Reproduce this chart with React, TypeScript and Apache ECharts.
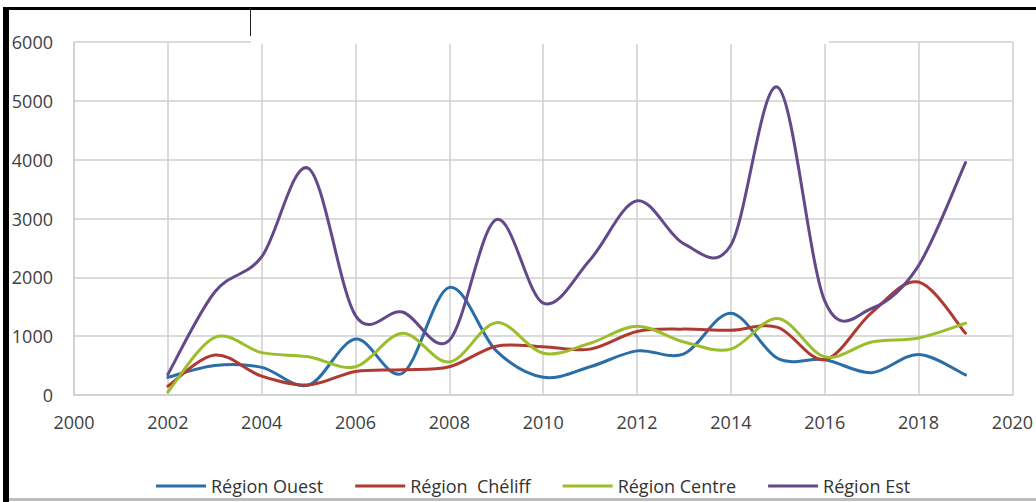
import React, { useEffect, useRef } from "react";
import * as echarts from "echarts";

// Years covered by the series
const years = [2002, 2003, 2004, 2005, 2006, 2007, 2008, 2009, 2010, 2011, 2012, 2013, 2014, 2015, 2016, 2017, 2018, 2019];

const regionOuest = [300, 500, 470, 170, 950, 370, 1830, 750, 300, 480, 750, 700, 1390, 620, 600, 380, 690, 340];
const regionCheliff = [150, 680, 320, 170, 400, 430, 480, 830, 820, 780, 1080, 1120, 1100, 1150, 600, 1400, 1920, 1050];
const regionCentre = [50, 980, 720, 650, 480, 1050, 560, 1230, 710, 880, 1170, 900, 780, 1300, 650, 900, 970, 1220];
const regionEst = [350, 1750, 2350, 3850, 1350, 1410, 930, 2980, 1560, 2300, 3300, 2570, 2550, 5230, 1600, 1470, 2200, 3950];

const seriesNames = ["Région Ouest", "Région  Chéliff", "Région Centre", "Région Est"];
const seriesColors = ["#2a6ea8", "#b03a32", "#9cbd2c", "#64498a"];
const seriesValues = [regionOuest, regionCheliff, regionCentre, regionEst];

const FONT = "'Open Sans', sans-serif";

// Smoothed line in the style of spreadsheet charts: cubic Bezier segments
// whose tangents come from the neighbouring points (Catmull-Rom, tension 1/6).
function smoothPath(pts: number[][]): string {
  const n = pts.length;
  let d = `M${pts[0][0]},${pts[0][1]}`;
  for (let i = 0; i < n - 1; i++) {
    const p0 = pts[Math.max(i - 1, 0)];
    const p1 = pts[i];
    const p2 = pts[i + 1];
    const p3 = pts[Math.min(i + 2, n - 1)];
    const c1x = p1[0] + (p2[0] - p0[0]) / 6;
    const c1y = p1[1] + (p2[1] - p0[1]) / 6;
    const c2x = p2[0] - (p3[0] - p1[0]) / 6;
    const c2y = p2[1] - (p3[1] - p1[1]) / 6;
    d += ` C${c1x},${c1y} ${c2x},${c2y} ${p2[0]},${p2[1]}`;
  }
  return d;
}

export default function App() {
  const ref = useRef<HTMLDivElement>(null);

  useEffect(() => {
    if (!ref.current) return;
    const chart = echarts.init(ref.current, null, { renderer: "svg" });
    chart.setOption({
      animation: false,
      backgroundColor: "#ffffff",
      grid: { left: 74, right: 20, top: 42, bottom: 107, containLabel: false },
      xAxis: {
        type: "value",
        min: 2000,
        max: 2020,
        interval: 2,
        axisLine: { show: true, lineStyle: { color: "#cfcfcf", width: 1.5 } },
        axisTick: { show: false },
        axisLabel: {
          margin: 18,
          color: "#404040",
          fontFamily: FONT,
          fontSize: 18,
          formatter: (v: number) => String(v),
        },
        splitLine: { show: true, lineStyle: { color: "#cfcfcf", width: 1.5 } },
      },
      yAxis: {
        type: "value",
        min: 0,
        max: 6000,
        interval: 1000,
        axisLine: { show: true, lineStyle: { color: "#cfcfcf", width: 1.5 } },
        axisTick: { show: false },
        axisLabel: {
          margin: 21,
          color: "#404040",
          fontFamily: FONT,
          fontSize: 18,
          formatter: (v: number) => String(v),
        },
        splitLine: { show: true, lineStyle: { color: "#cfcfcf", width: 1.5 } },
      },
      legend: {
        bottom: 2,
        left: 151,
        icon: "rect",
        itemWidth: 50,
        itemHeight: 3,
        itemGap: 32,
        textStyle: { color: "#333333", fontFamily: FONT, fontSize: 18 },
        data: seriesNames,
      },
      series: seriesNames.map((name, si) => ({
        name,
        type: "custom",
        coordinateSystem: "cartesian2d",
        itemStyle: { color: seriesColors[si] },
        encode: { x: 0, y: 1 },
        data: years.map((y, j) => [y, seriesValues[si][j]]),
        renderItem: (params: any, api: any) => {
          if (params.dataIndex !== 0) return null;
          const pts = years.map((y, j) => api.coord([y, seriesValues[si][j]]));
          return {
            type: "path",
            shape: { pathData: smoothPath(pts) },
            style: {
              fill: "none",
              stroke: seriesColors[si],
              lineWidth: 3,
              lineCap: "round",
              lineJoin: "round",
            },
          };
        },
      })),
      graphic: [
        // frame around the figure
        { type: "rect", z: 100, shape: { x: 3, y: 7, width: 6, height: 495 }, style: { fill: "#000" } },
        { type: "rect", z: 100, shape: { x: 3, y: 7, width: 1033, height: 3 }, style: { fill: "#000" } },
        { type: "rect", z: 100, shape: { x: 9, y: 498, width: 1027, height: 3 }, style: { fill: "#bdbdbd" } },
        // blank band over the top of the grid
        { type: "rect", z: 100, shape: { x: 251, y: 10, width: 578, height: 34 }, style: { fill: "#ffffff" } },
        { type: "line", z: 101, shape: { x1: 250.5, y1: 10, x2: 250.5, y2: 36 }, style: { stroke: "#222", lineWidth: 1 } },
      ],
    });
    return () => chart.dispose();
  }, []);

  return (
    <div
      ref={ref}
      style={{ position: "fixed", left: 0, top: 0, width: 1036, height: 502 }}
    />
  );
}
